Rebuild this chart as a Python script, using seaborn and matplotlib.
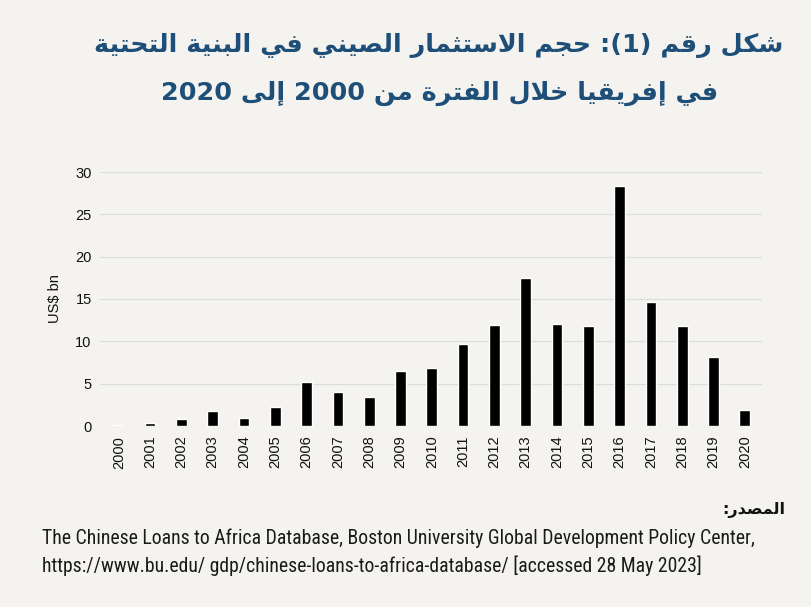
import re
import matplotlib
matplotlib.use("Agg")
import matplotlib.pyplot as plt
from matplotlib import font_manager as fm
import seaborn as sns
import pandas as pd

# ---------------- data ----------------
years = [str(y) for y in range(2000, 2021)]
values = [0.1, 0.3, 0.8, 1.8, 1.0, 2.2, 5.2, 4.0, 3.4, 6.5, 6.8,
          9.7, 11.9, 17.5, 12.0, 11.8, 28.4, 14.6, 11.8, 8.2, 1.9]
y_ticks = [0, 5, 10, 15, 20, 25, 30]
y_label = "US$ bn"
title_line1 = "شكل رقم (1): حجم الاستثمار الصيني في البنية التحتية"
title_line2 = "في إفريقيا خلال الفترة من 2000 إلى 2020"
source_head = "المصدر:"
source_line1 = ("The Chinese Loans to Africa Database, Boston University "
                "Global Development Policy Center,")
source_line2 = ("https://www.bu.edu/ gdp/chinese-loans-to-africa-database/ "
                "[accessed 28 May 2023]")

# ---------------- Arabic shaping ----------------
DUAL = {'ب': 0xFE8F, 'ت': 0xFE95, 'ث': 0xFE99, 'ج': 0xFE9D, 'ح': 0xFEA1,
        'خ': 0xFEA5, 'س': 0xFEB1, 'ش': 0xFEB5, 'ص': 0xFEB9, 'ض': 0xFEBD,
        'ط': 0xFEC1, 'ظ': 0xFEC5, 'ع': 0xFEC9, 'غ': 0xFECD, 'ف': 0xFED1,
        'ق': 0xFED5, 'ك': 0xFED9, 'ل': 0xFEDD, 'م': 0xFEE1, 'ن': 0xFEE5,
        'ه': 0xFEE9, 'ي': 0xFEF1, 'ئ': 0xFE89}
RIGHT = {'ا': 0xFE8D, 'أ': 0xFE83, 'إ': 0xFE87, 'آ': 0xFE81, 'ة': 0xFE93,
         'د': 0xFEA9, 'ذ': 0xFEAB, 'ر': 0xFEAD, 'ز': 0xFEAF, 'و': 0xFEED,
         'ى': 0xFEEF, 'ؤ': 0xFE85}
LAMALEF = {'ا': 0xFEFB, 'أ': 0xFEF7, 'إ': 0xFEF9, 'آ': 0xFEF5}


def shape(text):
    out = []
    n = len(text)
    i = 0
    while i < n:
        c = text[i]
        prev_c = text[i - 1] if i > 0 else ''
        nxt = text[i + 1] if i + 1 < n else ''
        pj = prev_c in DUAL
        if c == 'ل' and nxt in LAMALEF:
            out.append(chr(LAMALEF[nxt] + (1 if pj else 0)))
            i += 2
            continue
        if c in DUAL:
            nj = nxt in DUAL or nxt in RIGHT
            b = DUAL[c]
            if pj and nj:
                out.append(chr(b + 3))
            elif pj:
                out.append(chr(b + 1))
            elif nj:
                out.append(chr(b + 2))
            else:
                out.append(chr(b))
        elif c in RIGHT:
            out.append(chr(RIGHT[c] + (1 if pj else 0)))
        elif c == 'ء':
            out.append(chr(0xFE80))
        else:
            out.append(c)
        i += 1
    return ''.join(out)


def ar(text):
    s = shape(text)[::-1]
    s = re.sub(r'[0-9A-Za-z]+', lambda m: m.group(0)[::-1], s)
    s = s.translate(str.maketrans('()', ')('))
    return s


# ---------------- fonts ----------------
available = {f.name for f in fm.fontManager.ttflist}
narrow = None
for cand in ["Liberation Sans Narrow", "DejaVu Sans Condensed", "Roboto Condensed",
             "Open Sans Condensed", "Roboto"]:
    if cand in available:
        narrow = cand
        break
if narrow is None:
    narrow = "DejaVu Sans"

# ---------------- figure ----------------
BG = "#f4f3ef"
sns.set_theme(style="whitegrid")
plt.rcParams['font.family'] = ['Liberation Sans', 'DejaVu Sans']

fig = plt.figure(figsize=(8.12, 6.07), dpi=100, facecolor=BG)
ax = fig.add_axes([100 / 812, 1 - 426 / 607, 662 / 812, 254 / 607])
ax.set_facecolor(BG)

df = pd.DataFrame({"year": years, "value": values})
sns.barplot(data=df, x="year", y="value", color="black", width=0.34,
            saturation=1, ax=ax, zorder=3)

ax.set_ylim(0, 30)
ax.set_xlim(-0.6, 20.55)
ax.set_yticks(y_ticks)
ax.set_yticklabels([str(t) for t in y_ticks], fontsize=10.5, color="#111111")
ax.tick_params(axis='x', labelrotation=90, labelsize=10.5, colors="#111111",
               length=0, pad=7)
ax.tick_params(axis='y', length=0, pad=6)
ax.grid(axis='y', color="#dcdcd8", linewidth=0.9, zorder=0)
ax.grid(axis='x', visible=False)
for sp in ax.spines.values():
    sp.set_visible(False)
ax.set_xlabel("")
ax.set_ylabel(y_label, fontsize=10.5, color="#111111")
ax.yaxis.set_label_coords(-0.058, 0.5)

# titles
TITLE_C = "#1e4f78"
tt1 = fig.text(439 / 812, 1 - 45 / 607, ar(title_line1), ha='center', va='center',
               fontsize=20, fontweight='bold', color=TITLE_C, family=['DejaVu Sans'])
tt2 = fig.text(440 / 812, 1 - 93 / 607, ar(title_line2), ha='center', va='center',
               fontsize=20, fontweight='bold', color=TITLE_C, family=['DejaVu Sans'])

# source
fig.text(785 / 812, 1 - 510 / 607, ar(source_head), ha='right', va='center',
         fontsize=11.5, fontweight='bold', color="#111111", family=['DejaVu Sans'])
t1 = fig.text(42 / 812, 1 - 538 / 607, source_line1, ha='left', va='center',
              fontsize=12, color="#1a1a1a", family=[narrow])
t2 = fig.text(42 / 812, 1 - 566 / 607, source_line2, ha='left', va='center',
              fontsize=12, color="#1a1a1a", family=[narrow])

# fit widths to reference
fig.canvas.draw()
r = fig.canvas.get_renderer()
w = t1.get_window_extent(r).width
if w > 0:
    s = 12 * 713 / w
    t1.set_fontsize(s)
    t2.set_fontsize(s)
w = tt1.get_window_extent(r).width
if w > 0:
    s = 20 * 688 / w
    tt1.set_fontsize(s)
    tt2.set_fontsize(s)

fig.savefig("out.png", dpi=100, facecolor=BG)
